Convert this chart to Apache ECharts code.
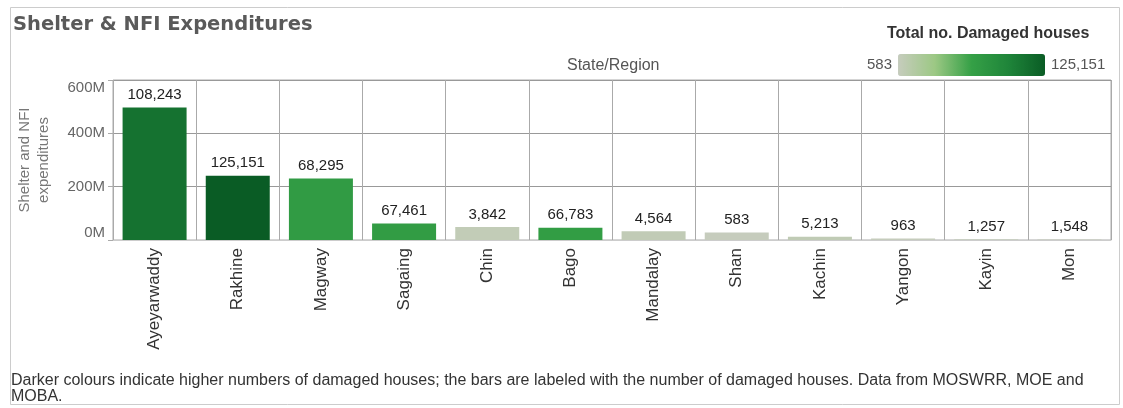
<!DOCTYPE html>
<html>
<head>
<meta charset="utf-8">
<script src="https://cdn.jsdelivr.net/npm/echarts@6/dist/echarts.min.js"></script>
<style>html,body{margin:0;padding:0;background:#fff;}#c{width:1123px;height:408px;}</style>
</head>
<body>
<div id="c"></div>
<script>
var regions = ['Ayeyarwaddy','Rakhine','Magway','Sagaing','Chin','Bago','Mandalay','Shan','Kachin','Yangon','Kayin','Mon'];
var expenditures = [497e6, 241e6, 231e6, 62e6, 49e6, 46e6, 33e6, 28e6, 12e6, 6e6, 2.5e6, 1.5e6];
var damagedHouses = [108243, 125151, 68295, 67461, 3842, 66783, 4564, 583, 5213, 963, 1257, 1548];
var yTicks = [0, 200e6, 400e6, 600e6];

var data = regions.map(function (r, i) { return [r, expenditures[i], damagedHouses[i]]; });
var hMin = Math.min.apply(null, damagedHouses), hMax = Math.max.apply(null, damagedHouses);
function fmt(n) { return n.toLocaleString('en-US'); }

var chart = echarts.init(document.getElementById('c'));
chart.setOption({
  animation: false,
  backgroundColor: '#fff',
  textStyle: { fontFamily: 'Liberation Sans, Arial, sans-serif' },
  grid: { left: 113, right: 12, top: 80, height: 160, show: true, borderColor: '#aaa', borderWidth: 1 },
  xAxis: {
    type: 'category',
    data: regions,
    axisLine: { show: true, lineStyle: { color: '#ccc' } },
    axisTick: { show: false },
    splitLine: { show: true, lineStyle: { color: '#aaa', width: 1 } },
    axisLabel: { rotate: 90, color: '#333', fontSize: 17, margin: 8, interval: 0 }
  },
  yAxis: {
    type: 'value',
    min: yTicks[0], max: yTicks[yTicks.length - 1], interval: 200e6,
    name: 'Shelter and NFI\nexpenditures',
    nameLocation: 'middle', nameRotate: 90, nameGap: 60,
    nameTextStyle: { color: '#777', fontSize: 15, lineHeight: 19 },
    axisLine: { show: false },
    axisTick: { show: true, length: 5, lineStyle: { color: '#aaa' } },
    splitLine: { show: true, lineStyle: { color: '#999' } },
    axisLabel: {
      color: '#666', fontSize: 15, margin: 8,
      verticalAlignMinLabel: 'bottom', verticalAlignMaxLabel: 'top',
      formatter: function (v) { return (v / 1e6) + 'M'; }
    }
  },
  visualMap: {
    type: 'continuous',
    dimension: 2,
    seriesIndex: 0,
    min: hMin, max: hMax,
    orient: 'horizontal',
    left: 852, top: 39,
    itemWidth: 22, itemHeight: 147,
    calculable: false,
    text: [fmt(hMax), fmt(hMin)],
    textGap: 6,
    textStyle: { color: '#555', fontSize: 15 },
    inRange: { color: ['#c6ccbd', '#9cc884', '#35a046', '#1f853a', '#0a5c25'] }
  },
  series: [{
    type: 'bar',
    data: data,
    encode: { x: 0, y: 1 },
    barWidth: 64,
    label: {
      show: true, position: 'top', distance: 5,
      color: '#222', fontSize: 15,
      formatter: function (p) { return fmt(p.value[2]); }
    }
  }],
  graphic: [
    { type: 'rect', left: 8, top: 5, shape: { width: 1109, height: 397 }, style: { fill: 'none', stroke: '#ccc', lineWidth: 1 }, silent: true },
    { type: 'text', left: 13, top: 15, style: { text: 'Shelter & NFI Expenditures', font: 'bold 19.5px "DejaVu Sans", sans-serif', fill: '#5a5a5a' } },
    { type: 'text', left: 567, top: 58, style: { text: 'State/Region', font: '16px "Liberation Sans", Arial, sans-serif', fill: '#555' } },
    { type: 'text', left: 887, top: 26, style: { text: 'Total no. Damaged houses', font: 'bold 16px "Liberation Sans", Arial, sans-serif', fill: '#333' } },
    { type: 'text', left: 11, top: 373, style: { text: 'Darker colours indicate higher numbers of damaged houses; the bars are labeled with the number of damaged houses. Data from MOSWRR, MOE and\nMOBA.', font: '16px "Liberation Sans", Arial, sans-serif', fill: '#333', lineHeight: 16 } }
  ]
});
</script>
</body>
</html>
